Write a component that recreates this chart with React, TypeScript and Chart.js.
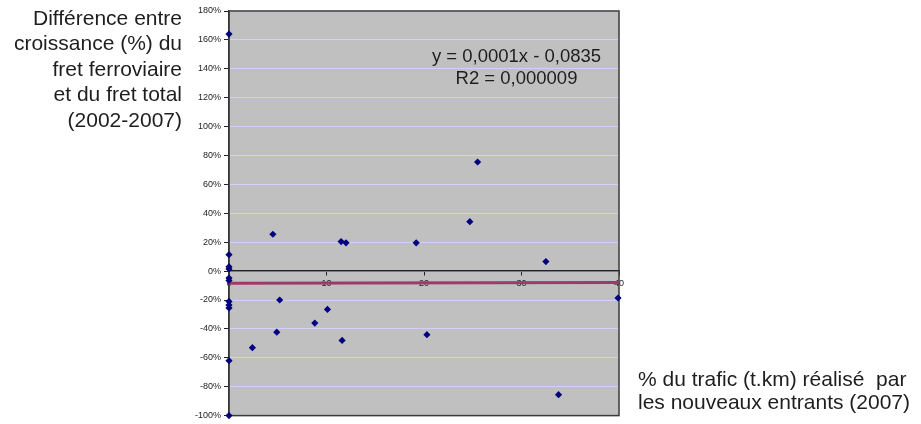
import React, { useEffect, useRef } from 'react';
import { Chart, registerables } from 'chart.js';

Chart.register(...registerables);

// Share of traffic realised by new entrants (x, %) and growth difference (y, %)
const pointsX = [0, 0, 0, 0, 0, 0, 0, 0, 0, 0, 0, 2.4, 4.5, 4.9, 5.2, 8.8, 10.1, 11.5, 11.6, 12.0, 19.2, 20.3, 24.7, 25.5, 32.5, 33.8, 39.9];
const pointsY = [164, 11.4, 3, 1.5, -4.8, -6.5, -21, -23.5, -25.5, -62, -100, -53, 25.5, -42.3, -20, -36, -26.5, 20.4, -48, 19.6, 19.6, -44, 34.2, 75.5, 6.6, -85.5, -18.6];

// Linear trend line (y = 0,0001x - 0,0835) endpoints, in %
const trendX = [0, 40];
const trendY = [-8.35, -7.95];

const yMin = -100;
const yMax = 180;
const yStep = 20;
const xMin = 0;
const xMax = 40;
const xStep = 10;

const titleLines = ['Différence entre', 'croissance (%) du', 'fret ferroviaire', 'et du fret total', '(2002-2007)'];
const xTitleLines = ['% du trafic (t.km) réalisé  par', 'les nouveaux entrants (2007)'];
const equationLines = ['y = 0,0001x - 0,0835', 'R2 = 0,000009'];

const FONT = '"Liberation Sans", Arial, sans-serif';

const decorPlugin = {
  id: 'decor',
  beforeDraw(chart: any) {
    const { ctx, chartArea: a } = chart;
    ctx.save();
    ctx.fillStyle = '#c0c0c0';
    ctx.fillRect(a.left, a.top, a.right - a.left, a.bottom - a.top);
    ctx.restore();
  },
  beforeDatasetsDraw(chart: any) {
    const { ctx, chartArea: a } = chart;
    ctx.save();
    ctx.strokeStyle = '#3a3a3a';
    ctx.lineWidth = 1.5;
    ctx.strokeRect(a.left, a.top, a.right - a.left, a.bottom - a.top);
    ctx.restore();
  },
  afterDraw(chart: any) {
    const { ctx } = chart;
    ctx.save();
    ctx.fillStyle = '#1e1e1e';
    ctx.textBaseline = 'middle';
    ctx.font = `21px ${FONT}`;
    ctx.textAlign = 'right';
    titleLines.forEach((t, i) => ctx.fillText(t, 182, 19 + i * 25.5));
    ctx.textAlign = 'left';
    xTitleLines.forEach((t, i) => ctx.fillText(t, 638, 380 + i * 23));
    ctx.font = `18.5px ${FONT}`;
    ctx.textAlign = 'center';
    equationLines.forEach((t, i) => ctx.fillText(t, 516.5, 57 + i * 22));
    ctx.restore();
  },
};

export default function App() {
  const ref = useRef<HTMLCanvasElement>(null);
  useEffect(() => {
    if (!ref.current) return;
    const chart = new Chart(ref.current, {
      type: 'scatter',
      data: {
        datasets: [
          {
            data: pointsX.map((x, i) => ({ x, y: pointsY[i] })),
            pointStyle: 'rectRot',
            pointRadius: 3.6,
            backgroundColor: '#000080',
            borderColor: '#000080',
            borderWidth: 0,
            clip: false,
          },
          {
            data: trendX.map((x, i) => ({ x, y: trendY[i] })),
            showLine: true,
            borderColor: '#9c3b68',
            borderWidth: 3,
            pointRadius: 0,
            clip: false,
          },
        ],
      },
      options: {
        animation: false,
        responsive: false,
        devicePixelRatio: 1,
        layout: { padding: { left: 169, top: 11, right: 302, bottom: 7 } },
        plugins: { legend: { display: false }, tooltip: { enabled: false } },
        scales: {
          x: {
            type: 'linear',
            position: { y: 0 } as any,
            min: xMin,
            max: xMax,
            ticks: {
              stepSize: xStep,
              color: '#222',
              padding: 3,
              font: { family: FONT, size: 9 },
            },
            grid: { drawOnChartArea: false, tickLength: 4, tickColor: '#222' },
            border: { display: true, color: '#222', width: 1.5 },
          },
          y: {
            type: 'linear',
            min: yMin,
            max: yMax,
            afterFit: (s: any) => {
              s.width = 60;
            },
            ticks: {
              stepSize: yStep,
              color: '#222',
              padding: 3,
              font: { family: FONT, size: 9 },
              callback: (v: any) => `${v}%`,
            },
            grid: { color: '#d0d0fa', lineWidth: 1, tickLength: 5, tickColor: '#222' },
            border: { display: true, color: '#333', width: 1.5 },
          },
        },
      },
      plugins: [decorPlugin],
    });
    return () => chart.destroy();
  }, []);
  return (
    <div style={{ position: 'absolute', left: 0, top: 0, width: 921, height: 424, background: '#fff' }}>
      <canvas ref={ref} width={921} height={424} style={{ display: 'block' }} />
    </div>
  );
}
